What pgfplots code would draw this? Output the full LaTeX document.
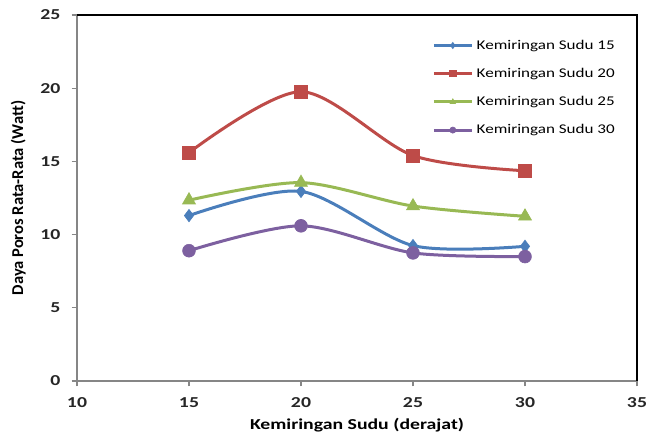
\documentclass[border=0pt]{standalone}
\usepackage{pgfplots}
\pgfplotsset{compat=1.18}
\usepackage{fontspec}
\setmainfont{Carlito}
\definecolor{cblue}{HTML}{4A7EBB}
\definecolor{cred}{HTML}{BE4B48}
\definecolor{cgreen}{HTML}{98B954}
\definecolor{cpurple}{HTML}{7D60A0}
\definecolor{axgray}{HTML}{868686}
\begin{document}
\begin{tikzpicture}
\useasboundingbox (0,0) rectangle (484.5pt,330pt);
\begin{axis}[
  at={(57.75pt,44.25pt)}, anchor=origin,
  scale only axis, width=420pt, height=274.5pt,
  xmin=10, xmax=35, ymin=0, ymax=25,
  xtick={10,15,20,25,30,35}, ytick={0,5,10,15,20,25},
  axis x line*=bottom, axis y line*=left,
  axis line style={axgray, line width=0.8pt},
  tick style={axgray, line width=0.8pt},
  tick align=outside, major tick length=4pt,
  /pgf/number format/assume math mode=true,
  tick label style={font=\fontsize{11.4}{13}\selectfont\bfseries, text=black!85, xscale=1.3},
  yticklabel style={xshift=-3pt},
  xticklabel style={yshift=-5pt},
  xlabel={Kemiringan Sudu (derajat)},
  ylabel={Daya Poros Rata-Rata (Watt)},
  xlabel style={font=\fontsize{11.4}{13}\selectfont\bfseries, at={(axis description cs:0.5,-0.12)}, anchor=center, xscale=1.3},
  ylabel style={font=\fontsize{12.4}{14}\selectfont\bfseries, at={(axis description cs:-0.105,0.5)}, anchor=center},
  clip=false,
  legend cell align=left,
  legend style={at={(axis description cs:0.634,0.94)}, anchor=north west, draw=none, fill=none,
    font=\fontsize{10}{12}\selectfont, row sep=8.7pt, inner sep=0pt,
    nodes={xscale=1.28}},
  legend image code/.code={\draw[#1, mark=none] plot coordinates {(0pt,0pt) (28.5pt,0pt)};
    \draw[#1, mark size=2.3pt] plot coordinates {(14.25pt,0pt)};},
  every axis plot/.append style={line width=2.25pt, smooth, tension=0.5},
]
\draw[black, line width=0.8pt] (axis cs:10,25) -- (axis cs:35,25) -- (axis cs:35,0);
\addplot[cblue, mark=diamond*, mark size=4.6pt, mark options={solid, line width=0.5pt}]
  coordinates {(15,11.3) (20,12.95) (25,9.25) (30,9.2)};
\addlegendentry{Kemiringan Sudu 15}
\addplot[cred, mark=square*, mark size=4.8pt, mark options={solid, line width=0.5pt}]
  coordinates {(15,15.6) (20,19.76) (25,15.4) (30,14.36)};
\addlegendentry{Kemiringan Sudu 20}
\addplot[cgreen, mark=triangle*, mark size=5.6pt, mark options={solid, line width=0.5pt}]
  coordinates {(15,12.35) (20,13.55) (25,11.95) (30,11.25)};
\addlegendentry{Kemiringan Sudu 25}
\addplot[cpurple, mark=*, mark size=4.8pt, mark options={solid, line width=0.5pt}]
  coordinates {(15,8.9) (20,10.6) (25,8.75) (30,8.5)};
\addlegendentry{Kemiringan Sudu 30}
\end{axis}
\end{tikzpicture}
\end{document}
